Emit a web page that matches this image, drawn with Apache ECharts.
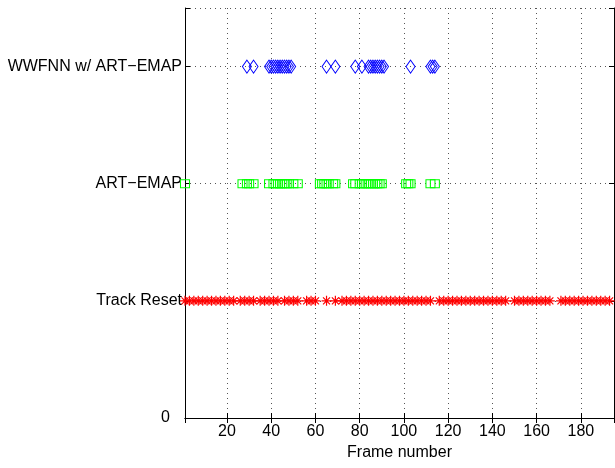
<!DOCTYPE html>
<html>
<head>
<meta charset="utf-8">
<script src="https://cdn.jsdelivr.net/npm/echarts@6/dist/echarts.min.js"></script>
<style>
  html, body { margin: 0; padding: 0; background: #fff; }
  #chart { width: 615px; height: 468px; }
</style>
</head>
<body>
<div id="chart"></div>
<script>
// row labels on the y axis (value 0..3)
var rowLabels = ['0', 'Track Reset', 'ART\u2212EMAP', 'WWFNN w/ ART\u2212EMAP'];

// frames where each event was marked
var trackResetFrames = [1, 3, 5, 7, 9, 11, 13, 15, 17, 19, 21, 23,
    26, 28, 30, 32, 35, 37, 39, 41, 43, 46, 48, 50, 52, 56, 58, 60, 65, 69,
    72, 74, 76, 78, 80, 82, 84, 86, 88, 90, 92, 94, 96, 98, 100, 102, 104, 106, 108, 110, 112,
    116, 118, 120, 122, 124, 126, 128, 130, 132, 134, 136, 138, 140, 142, 144, 146,
    150, 152, 154, 156, 158, 160, 162, 164, 166,
    171, 173, 175, 177, 179, 181, 183, 185, 187, 189, 191, 193];
var artEmapFrames = [1, 27, 29, 30, 32, 39, 41, 42, 43, 44, 45, 46, 47, 48, 50, 52,
    62, 63, 64, 65, 66, 68, 69, 77, 78, 80, 81, 82, 83, 84, 85, 86, 87, 88, 89, 90,
    101, 102, 103, 112, 114];
var wwfnnFrames = [29, 32, 39, 40, 41, 42, 43, 44, 45, 46, 47, 48, 49, 65, 69, 78, 81,
    84, 85, 86, 87, 88, 89, 90, 91, 103, 112, 113, 114];

var frameMin = 1, frameMax = 195;

(function(){
    var font = 'Liberation Sans, Arial, sans-serif';
    var gridLine = { show: true, lineStyle: { color: '#555', type: [1, 4], width: 1 } };
    var axisLine = { show: true, lineStyle: { color: '#000', width: 1 } };
    var tick = { show: true, inside: true, length: 5, lineStyle: { color: '#000' } };

    function toPoints(frames, row) {
        return frames.map(function(f){ return [f, row]; });
    }

    var chart = echarts.init(document.getElementById('chart'), null, { renderer: 'canvas' });
    var option = {
        backgroundColor: '#fff',
        animation: false,
        grid: { left: 185, right: 1, top: 8, bottom: 50, containLabel: false },
        xAxis: [{
            type: 'value',
            min: frameMin,
            max: frameMax,
            splitNumber: 10,
            name: 'Frame number',
            nameLocation: 'middle',
            nameGap: 25,
            nameTextStyle: { color: '#000', fontSize: 16, fontFamily: font },
            axisLine: axisLine,
            axisTick: tick,
            splitLine: gridLine,
            axisLabel: {
                color: '#000', fontSize: 16, fontFamily: font, margin: 6,
                showMinLabel: false, showMaxLabel: false,
                formatter: function(v){ return v % 20 === 0 ? String(v) : ''; }
            }
        }, {
            type: 'value',
            position: 'top',
            min: frameMin,
            max: frameMax,
            splitNumber: 10,
            axisLine: axisLine,
            axisTick: tick,
            splitLine: { show: false },
            axisLabel: { show: false }
        }],
        yAxis: [{
            type: 'value',
            min: 0,
            max: 3.5,
            interval: 1,
            axisLine: axisLine,
            axisTick: tick,
            splitLine: gridLine,
            axisLabel: {
                color: '#000', fontSize: 16, fontFamily: font, margin: 3,
                formatter: function(v){
                    if (v === 0) return '{z|0}';
                    return rowLabels[v] || '';
                },
                rich: { z: { fontSize: 16, fontFamily: font, color: '#000', padding: [0, 12, 0, 0] } }
            }
        }, {
            type: 'value',
            position: 'right',
            min: 0,
            max: 3.5,
            interval: 1,
            axisLine: axisLine,
            axisTick: tick,
            splitLine: { show: false },
            axisLabel: { show: false }
        }],
        series: [{
            name: 'Track Reset',
            type: 'scatter',
            symbol: 'path://M5 0L5 10M0 5L10 5M1.5 1.5L8.5 8.5M8.5 1.5L1.5 8.5',
            symbolSize: 10,
            itemStyle: { color: 'rgba(0,0,0,0)', borderColor: '#ff0000', borderWidth: 1.2, opacity: 1 },
            data: toPoints(trackResetFrames, 1)
        }, {
            name: 'ART-EMAP',
            type: 'scatter',
            symbol: 'rect',
            symbolSize: [9, 8],
            itemStyle: { color: 'rgba(0,0,0,0)', borderColor: '#00ff00', borderWidth: 1, opacity: 1 },
            data: toPoints(artEmapFrames, 2)
        }, {
            name: 'WWFNN w/ ART-EMAP',
            type: 'scatter',
            symbol: 'diamond',
            symbolSize: [9, 13],
            itemStyle: { color: 'rgba(0,0,0,0)', borderColor: '#0000ff', borderWidth: 1, opacity: 1 },
            data: toPoints(wwfnnFrames, 3)
        }]
    };
    chart.setOption(option);
})();
</script>
</body>
</html>
